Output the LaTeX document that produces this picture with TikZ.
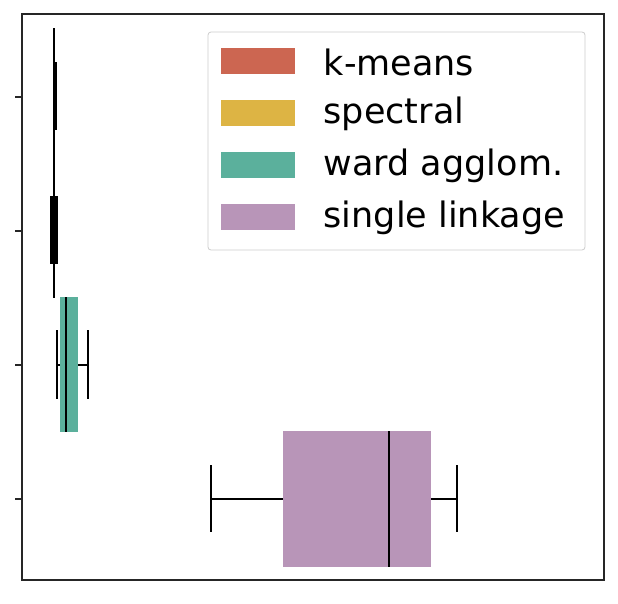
\documentclass[tikz,border=0pt]{standalone}
\usepackage{fontspec}
\setmainfont{DejaVu Sans}
\definecolor{km}{HTML}{CC6651}
\definecolor{sp}{HTML}{DDB444}
\definecolor{wa}{HTML}{5BB09C}
\definecolor{sl}{HTML}{B895B8}
\begin{document}
\begin{tikzpicture}[x=1pt,y=-1pt,line width=1.5pt,
  wl/.style={line width=1.5pt,black},
  patch/.style={minimum width=74pt,minimum height=26pt,inner sep=0pt},
  lab/.style={anchor=west,font=\fontsize{35}{35}\selectfont,inner sep=0pt}]
\useasboundingbox (0,0) rectangle (618,603);
% boxes
\fill[km] (53,28) rectangle (55,162);
\fill[sp] (53,162) rectangle (55,298);
\fill[wa] (60,297) rectangle (78,432);
\fill[sl] (283,431) rectangle (431,567);
% k-means
\draw[wl] (54,28) -- (54,162);
\draw[wl,line width=2.5pt] (56,62) -- (56,130);
% spectral
\draw[wl] (54,162) -- (54,298);
\draw[wl,line width=2.5pt] (51.5,196) -- (51.5,264);
\draw[wl,line width=2.5pt] (56.5,196) -- (56.5,264);
% ward
\draw[wl] (57,365) -- (60,365) (78,365) -- (88,365);
\draw[wl] (57,330) -- (57,399) (88,330) -- (88,399);
\draw[wl] (66,297) -- (66,432);
% single
\draw[wl] (211,499) -- (283,499) (431,499) -- (457,499);
\draw[wl] (211,465) -- (211,532) (457,465) -- (457,532);
\draw[wl] (389,431) -- (389,567);
% axes
\draw[line width=1.2pt,black!85] (22,14) rectangle (604,580);
\foreach \yy in {97,231,365,499} \draw[line width=1.2pt,black!85] (15,\yy) -- (22,\yy);
% legend
\draw[rounded corners=3pt,line width=0.8pt,black!20,fill=white] (208,32) rectangle (585,250);
\node[patch,fill=km] (p1) at (258,61) {};
\node[patch,fill=sp] (p2) at (258,113) {};
\node[patch,fill=wa] (p3) at (258,165) {};
\node[patch,fill=sl] (p4) at (258,217) {};
\node[lab] (l1) at (323,62) {k-means};
\node[lab] (l2) at (323,114) {spectral};
\node[lab] (l3) at (323,166) {ward agglom.};
\node[lab] (l4) at (323,218) {single linkage};
\end{tikzpicture}
\end{document}
